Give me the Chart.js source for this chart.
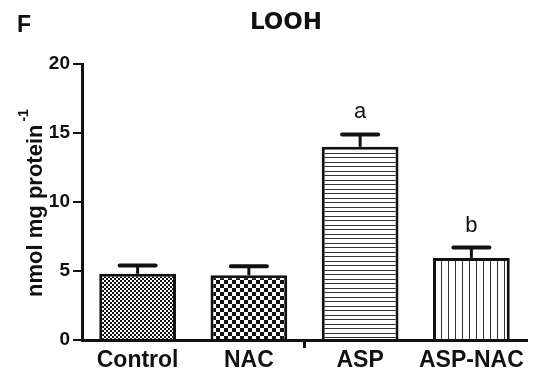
<!DOCTYPE html>
<html>
<head>
<meta charset="utf-8">
<script src="https://cdn.jsdelivr.net/npm/chart.js@4"></script>
<style>
  html, body { margin: 0; padding: 0; background: #fff; }
  #c { display: block; }
</style>
</head>
<body>
<canvas id="c" width="554" height="372"></canvas>
<script>
// LOOH levels per treatment group (nmol mg protein^-1), mean and SEM
const groups = ['Control', 'NAC', 'ASP', 'ASP-NAC'];
const meanLOOH = [4.8, 4.7, 14.0, 5.95];
const semLOOH = [0.6, 0.65, 0.9, 0.75];
const signif = ['', '', 'a', 'b'];
const yTicks = [0, 5, 10, 15, 20];

const INK = '#111';

// Fill patterns for the four bars
function makePattern(kind) {
  const c = document.createElement('canvas');
  const g = c.getContext('2d');
  if (kind === 'fineCheck') {
    c.width = 4; c.height = 4;
    g.fillStyle = '#fff'; g.fillRect(0, 0, 4, 4);
    g.fillStyle = INK;
    g.fillRect(0, 0, 2, 2); g.fillRect(2, 2, 2, 2);
  } else if (kind === 'coarseCheck') {
    c.width = 8; c.height = 8;
    g.fillStyle = '#fff'; g.fillRect(0, 0, 8, 8);
    g.fillStyle = INK;
    g.fillRect(0, 0, 4, 4); g.fillRect(4, 4, 4, 4);
  } else if (kind === 'hLines') {
    c.width = 9; c.height = 9;
    g.fillStyle = '#fff'; g.fillRect(0, 0, 9, 9);
    g.fillStyle = '#333';
    g.fillRect(0, 0, 9, 1); g.fillRect(0, 4, 9, 1);
  } else {
    c.width = 7; c.height = 7;
    g.fillStyle = '#fff'; g.fillRect(0, 0, 7, 7);
    g.fillStyle = '#333';
    g.fillRect(0, 0, 1, 7);
  }
  const ctx = document.getElementById('c').getContext('2d');
  return ctx.createPattern(c, 'repeat');
}

const fills = [
  makePattern('fineCheck'),
  makePattern('coarseCheck'),
  makePattern('hLines'),
  makePattern('vLines')
];

// Error bars, significance letters, panel letter, titles and axis break tick
const decorations = {
  id: 'decorations',
  afterDatasetsDraw(chart) {
    const { ctx, scales: { x, y }, chartArea } = chart;
    ctx.save();
    ctx.strokeStyle = INK;
    ctx.fillStyle = INK;
    meanLOOH.forEach((m, i) => {
      const px = x.getPixelForValue(i);
      const yBar = y.getPixelForValue(m);
      const yTop = y.getPixelForValue(m + semLOOH[i]);
      ctx.lineCap = 'butt';
      ctx.lineWidth = 3;
      ctx.beginPath();
      ctx.moveTo(px, yBar);
      ctx.lineTo(px, yTop);
      ctx.stroke();
      ctx.lineCap = 'round';
      ctx.lineWidth = 4;
      ctx.beginPath();
      ctx.moveTo(px - 18, yTop);
      ctx.lineTo(px + 18, yTop);
      ctx.stroke();
      if (signif[i]) {
        ctx.font = '22px "Liberation Sans", Arial, sans-serif';
        ctx.textAlign = 'center';
        ctx.textBaseline = 'alphabetic';
        ctx.fillText(signif[i], px, yTop - 16);
      }
    });
    // small tick below the axis between NAC and ASP
    const mid = (x.getPixelForValue(1) + x.getPixelForValue(2)) / 2;
    ctx.lineCap = 'butt';
    ctx.lineWidth = 3;
    ctx.beginPath();
    ctx.moveTo(mid, chartArea.bottom);
    ctx.lineTo(mid, chartArea.bottom + 8);
    ctx.stroke();
    ctx.restore();
  },
  afterDraw(chart) {
    const { ctx, chartArea } = chart;
    ctx.save();
    ctx.fillStyle = INK;
    ctx.textBaseline = 'alphabetic';
    // panel letter
    ctx.font = 'bold 23px "Liberation Sans", Arial, sans-serif';
    ctx.textAlign = 'left';
    ctx.fillText('F', 17, 32);
    // chart title
    ctx.font = 'bold 23px "DejaVu Sans", sans-serif';
    ctx.textAlign = 'center';
    ctx.fillText('LOOH', 286, 29);
    // y-axis title with superscript unit
    const midY = (chartArea.top + chartArea.bottom) / 2;
    ctx.translate(42, midY + 1);
    ctx.rotate(-Math.PI / 2);
    const main = 'nmol mg protein';
    const sup = '-1';
    ctx.font = 'bold 22px "Liberation Sans", Arial, sans-serif';
    const wMain = ctx.measureText(main).width;
    ctx.font = 'bold 14px "Liberation Sans", Arial, sans-serif';
    const wSup = ctx.measureText(sup).width;
    const gap = 3;
    const start = -(wMain + gap + wSup) / 2;
    ctx.textAlign = 'left';
    ctx.font = 'bold 22px "Liberation Sans", Arial, sans-serif';
    ctx.fillText(main, start, 0);
    ctx.font = 'bold 14px "Liberation Sans", Arial, sans-serif';
    ctx.fillText(sup, start + wMain + gap, -14);
    ctx.restore();
  }
};

new Chart(document.getElementById('c'), {
  type: 'bar',
  data: {
    labels: groups,
    datasets: [{
      data: meanLOOH,
      backgroundColor: fills,
      borderColor: INK,
      borderWidth: 3,
      borderSkipped: 'start',
      barPercentage: 0.69,
      categoryPercentage: 1.0
    }]
  },
  options: {
    responsive: false,
    animation: false,
    devicePixelRatio: 1,
    layout: { padding: { top: 64, right: 27, left: 0, bottom: 0 } },
    plugins: {
      legend: { display: false },
      tooltip: { enabled: false },
      title: { display: false }
    },
    scales: {
      x: {
        grid: { display: false, drawTicks: false },
        border: { display: true, color: INK, width: 3 },
        ticks: {
          color: INK,
          padding: 7,
          maxRotation: 0,
          font: { family: '"Liberation Sans", Arial, sans-serif', size: 23, weight: 'bold' }
        },
        afterFit(scale) { scale.height = 32; }
      },
      y: {
        min: 0,
        max: 20,
        afterBuildTicks(scale) { scale.ticks = yTicks.map(v => ({ value: v })); },
        grid: {
          display: true,
          drawOnChartArea: false,
          drawTicks: true,
          tickLength: 9,
          lineWidth: 2,
          color: INK
        },
        border: { display: true, color: INK, width: 3 },
        ticks: {
          color: INK,
          padding: 3,
          font: { family: '"Liberation Sans", Arial, sans-serif', size: 19, weight: 'bold' }
        },
        afterFit(scale) { scale.width = 82; }
      }
    }
  },
  plugins: [decorations]
});
</script>
</body>
</html>
